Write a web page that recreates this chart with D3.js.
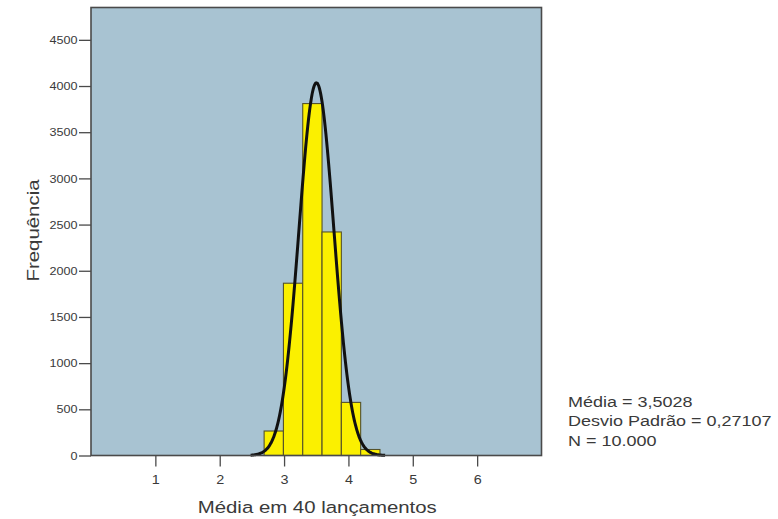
<!DOCTYPE html>
<html>
<head>
<meta charset="utf-8">
<script src="https://cdn.jsdelivr.net/npm/d3@7"></script>
<style>
  html, body { margin: 0; padding: 0; background: #ffffff; }
  svg { display: block; }
  text { font-family: "Liberation Sans", Arial, sans-serif; fill: #3a3a3a; }
</style>
</head>
<body>
<script>
// ---- Data ----
const binStarts = [2.69, 2.99, 3.29, 3.59, 3.89, 4.19];
const binWidth = 0.3;
const counts = [265, 1865, 3810, 2420, 575, 65];
const xTicks = [1, 2, 3, 4, 5, 6];
const yTicks = [0, 500, 1000, 1500, 2000, 2500, 3000, 3500, 4000, 4500];
const xDomain = [0, 7];
const yDomain = [0, 4850];
// fitted normal curve parameters (from the chart's stats box)
const curveMean = 3.5028;
const curveSd = 0.27107;
const curvePeak = 4035;
const curveRange = [2.48, 4.57];
const statsLines = ["Média = 3,5028", "Desvio Padrão = 0,27107", "N = 10.000"];
const xTitle = "Média em 40 lançamentos";
const yTitle = "Frequência";

// ---- Layout ----
const W = 778, H = 519;
const L = 91, R = 541.5, T = 7.5, B = 455.5;
const SX = 1.2; // horizontal glyph stretch of the original font

const svg = d3.select("body").append("svg").attr("width", W).attr("height", H);

const x = d3.scaleLinear().domain(xDomain).range([L, R]);
const y = d3.scaleLinear().domain(yDomain).range([B, T]);

// plot background
svg.append("rect")
  .attr("x", L).attr("y", T).attr("width", R - L).attr("height", B - T)
  .attr("fill", "#a8c3d2");

// bars
const bars = binStarts.map((s, i) => ({ x0: s, x1: s + binWidth, c: counts[i] }));
svg.append("g").selectAll("rect").data(bars).join("rect")
  .attr("x", d => x(d.x0))
  .attr("y", d => y(d.c))
  .attr("width", d => x(d.x1) - x(d.x0))
  .attr("height", d => y(0) - y(d.c))
  .attr("fill", "#fbf000")
  .attr("stroke", "#55522a")
  .attr("stroke-width", 1.1);

// normal curve
const curvePts = d3.range(0, 201).map(k => {
  const v = curveRange[0] + (curveRange[1] - curveRange[0]) * k / 200;
  const z = (v - curveMean) / curveSd;
  return [v, curvePeak * Math.exp(-0.5 * z * z)];
});
svg.append("path")
  .datum(curvePts)
  .attr("d", d3.line().x(d => x(d[0])).y(d => y(d[1])).curve(d3.curveBasis))
  .attr("fill", "none")
  .attr("stroke", "#111111")
  .attr("stroke-width", 3);

// frame
svg.append("rect")
  .attr("x", L).attr("y", T).attr("width", R - L).attr("height", B - T)
  .attr("fill", "none")
  .attr("stroke", "#4a4a4a")
  .attr("stroke-width", 1.6);

// y axis
const yAx = svg.append("g").attr("transform", `translate(${L},0)`)
  .call(d3.axisLeft(y).tickValues(yTicks).tickSize(12).tickFormat(d3.format("d")));
yAx.select(".domain").remove();
yAx.selectAll(".tick line").attr("stroke", "#4a4a4a").attr("stroke-width", 1.3);
yAx.selectAll(".tick text")
  .attr("x", 0).attr("dy", null).attr("dominant-baseline", "central")
  .attr("transform", `translate(-13.5,0) scale(${SX},1)`)
  .attr("text-anchor", "end")
  .style("font-size", "10.5px")
  .style("font-family", "'Liberation Sans', Arial, sans-serif")
  .attr("fill", "#444");

// x axis
const xAx = svg.append("g").attr("transform", `translate(0,${B})`)
  .call(d3.axisBottom(x).tickValues(xTicks).tickSize(11).tickFormat(d3.format("d")));
xAx.select(".domain").remove();
xAx.selectAll(".tick line").attr("stroke", "#4a4a4a").attr("stroke-width", 1.3);
xAx.selectAll(".tick text")
  .attr("y", 0).attr("dy", null)
  .attr("transform", `translate(0,28.5) scale(${SX},1)`)
  .attr("text-anchor", "middle")
  .style("font-size", "12px")
  .style("font-family", "'Liberation Sans', Arial, sans-serif")
  .attr("fill", "#444");

// axis titles
svg.append("text")
  .attr("transform", `translate(${(L + R) / 2 + 1},512.5) scale(${SX},1)`)
  .attr("text-anchor", "middle")
  .style("font-size", "17px")
  .text(xTitle);

svg.append("text")
  .attr("transform", `translate(38.5,${(T + B) / 2 - 1}) rotate(-90) scale(${SX},1)`)
  .attr("text-anchor", "middle")
  .style("font-size", "17px")
  .text(yTitle);

// stats box
svg.append("g").selectAll("text").data(statsLines).join("text")
  .attr("transform", (d, i) => `translate(568,${406.5 + i * 19.5}) scale(${SX},1)`)
  .style("font-size", "15px")
  .text(d => d);
</script>
</body>
</html>
